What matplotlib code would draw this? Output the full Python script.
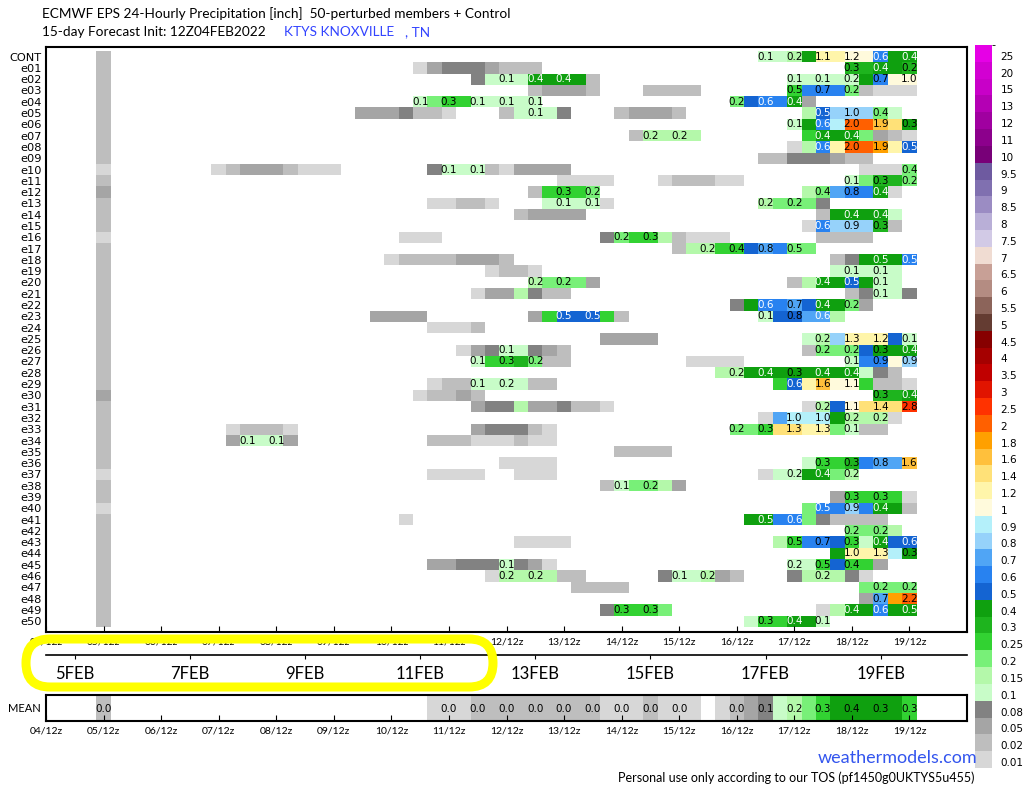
import numpy as np
import matplotlib
matplotlib.use('Agg')
import matplotlib.pyplot as plt
from matplotlib.colors import ListedColormap, BoundaryNorm
from matplotlib.cm import ScalarMappable
from matplotlib.patches import FancyBboxPatch
from matplotlib import font_manager

# --------------------------------------------------------------------------------
# --- Data
# --------------------------------------------------------------------------------
MEMBERS = ['CONT'] + ['e%02d' % k for k in range(1, 51)]
DATES = ['04/12z', '05/12z', '06/12z', '07/12z', '08/12z', '09/12z', '10/12z', '11/12z',
         '12/12z', '13/12z', '14/12z', '15/12z', '16/12z', '17/12z', '18/12z', '19/12z']
FEB_LABELS = ['5FEB', '7FEB', '9FEB', '11FEB', '13FEB', '15FEB', '17FEB', '19FEB']

BOUNDS = [0.01, 0.02, 0.05, 0.08, 0.1, 0.15, 0.2, 0.25, 0.3, 0.4, 0.5, 0.6, 0.7, 0.8, 0.9,
          1, 1.2, 1.4, 1.6, 1.8, 2, 2.5, 3, 3.5, 4, 4.5, 5, 5.5, 6, 6.5, 7, 7.5, 8, 8.5, 9,
          9.5, 10, 11, 12, 13, 15, 20, 25, 30]
COLORS = ['#d7d7d7', '#bebebe', '#a5a5a5', '#828282', '#c8fcc8', '#b4f8aa', '#78f078',
          '#32d232', '#1eb41e', '#0fa00f', '#1464d2', '#2882f0', '#50a5f5', '#96d2fa',
          '#b4f0fa', '#fffadc', '#fff5aa', '#ffe178', '#ffc03c', '#ffa000', '#ff6000',
          '#ff3200', '#e11400', '#c00000', '#a50000', '#870000', '#643c32', '#8c645a',
          '#b48c82', '#c8a096', '#f0dcd2', '#d2cae6', '#b9afd7', '#9b8cc3', '#8070b0',
          '#6e5aa0', '#780078', '#8c008c', '#a000a0', '#b400b4', '#c800c8', '#d200d2',
          '#e600e6']

# 24h precip (inch) per 6-hourly step, coded by colour class
CODE_VALUE = {'a': 0.015, 'b': 0.03, 'c': 0.06, 'd': 0.09, 'e': 0.12, 'f': 0.17,
              'g': 0.22, 'h': 0.27, 'i': 0.35, 'j': 0.45, 'k': 0.55, 'l': 0.65,
              'm': 0.75, 'n': 0.85, 'o': 0.95, 'p': 1.1, 'q': 1.3, 'r': 1.5,
              's': 1.7, 't': 1.9, 'u': 2.2, 'v': 2.7}

# step 4 (05/12z) for every member, CONT..e50
COL_0512 = 'bbbbbbbbbb' + 'abc' + 'bbb' + 'a' + 'b' * 13 + 'c' + 'b' * 6 + 'a' + 'bb' + 'a' + 'b' * 10

# (first step, codes) runs per member
RUNS = {
    'CONT': [(50, 'eefjqqppljj')],
    'e01': [(26, 'acdddcbbb'), (56, 'iijji')],
    'e02': [(30, 'deeejjjjb'), (52, 'eeeeejlpp')],
    'e03': [(34, 'bcccb'), (42, 'bbbb'), (52, 'hlllgbaaa')],
    'e04': [(26, 'eghheeeee'), (48, 'gklljc')],
    'e05': [(22, 'cccdbba'), (32, 'beeed'), (40, 'bcccb'), (53, 'fknnnge')],
    'e06': [(52, 'ejlouusrj')],
    'e07': [(41, 'bffff'), (53, 'hjjjgcba')],
    'e08': [(52, 'aflquutqk')],
    'e09': [(50, 'bbdddcbb')],
    'e10': [(12, 'abcccbaaa'), (27, 'deeebacccc'), (57, 'aaag')],
    'e11': [(36, 'aaaa'), (43, 'abbbaa'), (56, 'egiig')],
    'e12': [(34, 'bhhhg'), (53, 'fgmllja')],
    'e13': [(27, 'aabba'), (35, 'eeeea'), (50, 'fgggd')],
    'e14': [(33, 'bcccc'), (54, 'bjjjje')],
    'e15': [(53, 'alnnnib')],
    'e16': [(25, 'aaa'), (39, 'dghhfbaaa'), (54, 'bbbb')],
    'e17': [(44, 'bffhhkmlgg')],
    'e18': [(24, 'abbbbcccb'), (55, 'bdjjjl')],
    'e19': [(31, 'abba'), (55, 'eeeee')],
    'e20': [(34, 'fgggc'), (52, 'bfjjkjee')],
    'e21': [(30, 'accfdbb'), (56, 'bdeed')],
    'e22': [(48, 'djllmkjjgc')],
    'e23': [(23, 'cccc'), (34, 'chkkkhb'), (50, 'ekkmmf')],
    'e24': [(27, 'aaab')],
    'e25': [(39, 'cccc'), (53, 'efnqqqke')],
    'e26': [(29, 'acdeedcb'), (53, 'bgggkjjj')],
    'e27': [(30, 'ehhigbb'), (45, 'aaaa'), (56, 'ellpn')],
    'e28': [(47, 'ffjjjjjjjjedb')],
    'e29': [(27, 'abbeeeebb'), (51, 'hkqspphbba')],
    'e30': [(26, 'abbcb'), (58, 'iij')],
    'e31': [(30, 'cddfccdbba'), (53, 'afkprrrv')],
    'e32': [(50, 'amooojfffa')],
    'e33': [(13, 'abbba'), (30, 'cdddba'), (48, 'gghrrqqgebb')],
    'e34': [(13, 'ceeec'), (27, 'bbbaaabaa')],
    'e35': [(40, 'bbbb')],
    'e36': [(32, 'aaaa'), (53, 'ehhilmms')],
    'e37': [(27, 'aaaa'), (33, 'aaa'), (50, 'aeejjgf')],
    'e38': [(39, 'beggfc')],
    'e39': [(55, 'chhhha')],
    'e40': [(53, 'gllnljjb')],
    'e41': [(25, 'a'), (49, 'jjllgdbbbb')],
    'e42': [(56, 'gggf')],
    'e43': [(33, 'aaaa'), (51, 'fhllkhejkk')],
    'e44': [(55, 'jqqqoj')],
    'e45': [(27, 'ccdddedca'), (52, 'eehkhhc')],
    'e46': [(31, 'affffbb'), (43, 'deefcb'), (52, 'dfffda')],
    'e47': [(37, 'bbbb'), (57, 'gggg')],
    'e48': [(57, 'cmtu')],
    'e49': [(39, 'dhhhg'), (54, 'afjjljj')],
    'e50': [(49, 'ehhjje')],
}

# printed 24h totals (step: text)
LABELS = {
    'CONT': {50: '0.1', 52: '0.2', 54: '1.1', 56: '1.2', 58: '0.6', 60: '0.4'},
    'e01': {56: '0.3', 58: '0.4', 60: '0.2'},
    'e02': {32: '0.1', 34: '0.4', 36: '0.4', 52: '0.1', 54: '0.1', 56: '0.2', 58: '0.7', 60: '1.0'},
    'e03': {52: '0.5', 54: '0.7', 56: '0.2'},
    'e04': {26: '0.1', 28: '0.3', 30: '0.1', 32: '0.1', 34: '0.1', 48: '0.2', 50: '0.6', 52: '0.4'},
    'e05': {34: '0.1', 54: '0.5', 56: '1.0', 58: '0.4'},
    'e06': {52: '0.1', 54: '0.6', 56: '2.0', 58: '1.9', 60: '0.3'},
    'e07': {42: '0.2', 44: '0.2', 54: '0.4', 56: '0.4'},
    'e08': {54: '0.6', 56: '2.0', 58: '1.9', 60: '0.5'},
    'e09': {},
    'e10': {28: '0.1', 30: '0.1', 60: '0.4'},
    'e11': {56: '0.1', 58: '0.3', 60: '0.2'},
    'e12': {36: '0.3', 38: '0.2', 54: '0.4', 56: '0.8', 58: '0.4'},
    'e13': {36: '0.1', 38: '0.1', 50: '0.2', 52: '0.2'},
    'e14': {56: '0.4', 58: '0.4'},
    'e15': {54: '0.6', 56: '0.9', 58: '0.3'},
    'e16': {40: '0.2', 42: '0.3'},
    'e17': {46: '0.2', 48: '0.4', 50: '0.8', 52: '0.5'},
    'e18': {58: '0.5', 60: '0.5'},
    'e19': {56: '0.1', 58: '0.1'},
    'e20': {34: '0.2', 36: '0.2', 54: '0.4', 56: '0.5', 58: '0.1'},
    'e21': {58: '0.1'},
    'e22': {50: '0.6', 52: '0.7', 54: '0.4', 56: '0.2'},
    'e23': {36: '0.5', 38: '0.5', 50: '0.1', 52: '0.8', 54: '0.6'},
    'e24': {},
    'e25': {54: '0.2', 56: '1.3', 58: '1.2', 60: '0.1'},
    'e26': {32: '0.1', 54: '0.2', 56: '0.2', 58: '0.3', 60: '0.4'},
    'e27': {30: '0.1', 32: '0.3', 34: '0.2', 56: '0.1', 58: '0.9', 60: '0.9'},
    'e28': {48: '0.2', 50: '0.4', 52: '0.3', 54: '0.4', 56: '0.4'},
    'e29': {30: '0.1', 32: '0.2', 52: '0.6', 54: '1.6', 56: '1.1'},
    'e30': {58: '0.3', 60: '0.4'},
    'e31': {54: '0.2', 56: '1.1', 58: '1.4', 60: '2.8'},
    'e32': {52: '1.0', 54: '1.0', 56: '0.2', 58: '0.2'},
    'e33': {48: '0.2', 50: '0.3', 52: '1.3', 54: '1.3', 56: '0.1'},
    'e34': {14: '0.1', 16: '0.1'},
    'e35': {},
    'e36': {54: '0.3', 56: '0.3', 58: '0.8', 60: '1.6'},
    'e37': {52: '0.2', 54: '0.4', 56: '0.2'},
    'e38': {40: '0.1', 42: '0.2'},
    'e39': {56: '0.3', 58: '0.3'},
    'e40': {54: '0.5', 56: '0.9', 58: '0.4'},
    'e41': {50: '0.5', 52: '0.6'},
    'e42': {56: '0.2', 58: '0.2'},
    'e43': {52: '0.5', 54: '0.7', 56: '0.3', 58: '0.4', 60: '0.6'},
    'e44': {56: '1.0', 58: '1.3', 60: '0.3'},
    'e45': {32: '0.1', 52: '0.2', 54: '0.5', 56: '0.4'},
    'e46': {32: '0.2', 34: '0.2', 44: '0.1', 46: '0.2', 54: '0.2'},
    'e47': {58: '0.2', 60: '0.2'},
    'e48': {58: '0.7', 60: '2.2'},
    'e49': {40: '0.3', 42: '0.3', 56: '0.4', 58: '0.6', 60: '0.5'},
    'e50': {50: '0.3', 52: '0.4', 54: '0.1'},
}

MEAN_RUNS = [(4, 'b'), (27, 'aaabbbbbbbbbaaabaaa.abcdefghjjjjjh')]
MEAN_LABELS = {4: '0.0', 28: '0.0', 30: '0.0', 32: '0.0', 34: '0.0', 36: '0.0', 38: '0.0',
               40: '0.0', 42: '0.0', 44: '0.0', 48: '0.0', 50: '0.1', 52: '0.2', 54: '0.3',
               56: '0.4', 58: '0.3', 60: '0.3'}

# --------------------------------------------------------------------------------
# --- Helpers
# --------------------------------------------------------------------------------
W, H = 1024, 788
NSTEP = 64
names = {f.name for f in font_manager.fontManager.ttflist}
NARROW = 'Liberation Sans Narrow' if 'Liberation Sans Narrow' in names else 'Lato'

def fbox(x0, y0, x1, y1):
    # pixel box (top-left origin) -> figure fraction rect
    return [x0 / W, 1 - y1 / H, (x1 - x0) / W, (y1 - y0) / H]

def fill_row(row, runs):
    for start, codes in runs:
        for k, c in enumerate(codes):
            if c != '.':
                row[start + k] = CODE_VALUE[c]

def draw_labels(ax, y, labels, codes_row, dark=True):
    for j, s in labels.items():
        v = float(s)
        c = codes_row[j]
        col = 'white' if (dark and 0.4 <= v <= 0.6 and c >= 0.3) else 'black'
        ax.text(6 * j, y, s, ha='center', va='center', fontsize=7.5, color=col)

cmap = ListedColormap(COLORS)
norm = BoundaryNorm(BOUNDS, cmap.N)
x_edges = np.arange(NSTEP + 1) * 6 - 3

grid = np.full((len(MEMBERS), NSTEP), np.nan)
for i, m in enumerate(MEMBERS):
    grid[i, 4] = CODE_VALUE[COL_0512[i]]
    fill_row(grid[i], RUNS[m])
mean_row = np.full((1, NSTEP), np.nan)
fill_row(mean_row[0], MEAN_RUNS)

hours = np.arange(0, 361, 24)

# --------------------------------------------------------------------------------
# --- Figure
# --------------------------------------------------------------------------------
fig = plt.figure(figsize=(W / 100, H / 100), dpi=100)

# main member grid
ax = fig.add_axes(fbox(46, 47, 967, 632))
ax.pcolormesh(x_edges, np.arange(len(MEMBERS) + 1), np.ma.masked_invalid(grid),
              cmap=cmap, norm=norm, antialiased=False, linewidth=0)
for i, m in enumerate(MEMBERS):
    draw_labels(ax, i + 0.5, LABELS[m], np.nan_to_num(grid[i]))
ax.set_xlim(0, 384)
ax.set_ylim(51.46, -0.35)
ax.set_yticks(np.arange(len(MEMBERS)) + 0.5)
ax.set_yticklabels(MEMBERS, fontsize=8.2)
ax.tick_params(axis='y', length=0, pad=3)
ax.set_xticks(hours)
ax.set_xticklabels(DATES, fontsize=7.5, family=NARROW)
ax.tick_params(axis='x', direction='in', length=4, pad=4)
for s in ax.spines.values():
    s.set_linewidth(1.5)

# date strip
axf = fig.add_axes(fbox(46, 654.9, 967, 655))
axf.set_xlim(0, 384)
axf.set_yticks([])
for k in ['top', 'left', 'right']:
    axf.spines[k].set_visible(False)
axf.spines['bottom'].set_linewidth(1.2)
axf.set_xticks(np.arange(12, 360, 48))
axf.set_xticklabels(FEB_LABELS, fontsize=12, family=NARROW)
axf.tick_params(axis='x', direction='out', length=3, pad=5)

# ensemble mean
axm = fig.add_axes(fbox(46, 695, 967, 721))
axm.pcolormesh(x_edges, [0, 1], np.ma.masked_invalid(mean_row),
               cmap=cmap, norm=norm, antialiased=False, linewidth=0)
draw_labels(axm, 0.55, MEAN_LABELS, np.nan_to_num(mean_row[0]), dark=False)
axm.set_xlim(0, 384)
axm.set_ylim(1, 0)
axm.set_yticks([0.5])
axm.set_yticklabels(['MEAN'], fontsize=8, family=NARROW)
axm.tick_params(axis='y', length=0, pad=4)
axm.set_xticks(hours)
axm.set_xticklabels(DATES, fontsize=7.5, family=NARROW)
axm.tick_params(axis='x', direction='in', length=4, pad=4)
for s in axm.spines.values():
    s.set_linewidth(1.5)

# colour bar
cax = fig.add_axes(fbox(975, 45, 992, 768))
cb = fig.colorbar(ScalarMappable(norm=norm, cmap=cmap), cax=cax, boundaries=BOUNDS,
                  spacing='uniform', ticks=BOUNDS[:-1])
cb.outline.set_visible(False)
cax.set_yticklabels(['{:g}'.format(b) for b in BOUNDS[:-1]])
cax.tick_params(length=0, labelsize=7.5, pad=6)
for t in cax.get_yticklabels():
    t.set_va('bottom')

# titles and footer
TFS = 9.8
fig.text(42 / W, 1 - 14 / H, 'ECMWF EPS 24-Hourly Precipitation [inch]  50-perturbed members + Control',
         fontsize=TFS, family=NARROW, va='center')
fig.text(42 / W, 1 - 32 / H, '15-day Forecast Init: 12Z04FEB2022', fontsize=TFS, family=NARROW, va='center')
fig.text(284 / W, 1 - 32 / H, 'KTYS KNOXVILLE', fontsize=TFS, family=NARROW, va='center', color='#3344ff')
fig.text(405 / W, 1 - 32 / H, ', TN', fontsize=TFS, family=NARROW, va='center', color='#3344ff')
fig.text(977 / W, 1 - 758 / H, 'weathermodels.com', fontsize=13, family=NARROW, va='center',
         ha='right', color='#3355ee')
fig.text(975 / W, 1 - 778 / H, 'Personal use only according to our TOS (pf1450g0UKTYS5u455)',
         fontsize=9, family=NARROW, va='center', ha='right')

# yellow highlight drawn on top (pixel coords)
ov = fig.add_axes([0, 0, 1, 1], zorder=10)
ov.set_xlim(0, W)
ov.set_ylim(H, 0)
ov.axis('off')
ov.add_patch(FancyBboxPatch((26, 639), 467, 48, boxstyle='round,pad=0,rounding_size=24',
                            fill=False, ec='#ffff00', lw=6.5))

fig.savefig('out.png', dpi=100)
